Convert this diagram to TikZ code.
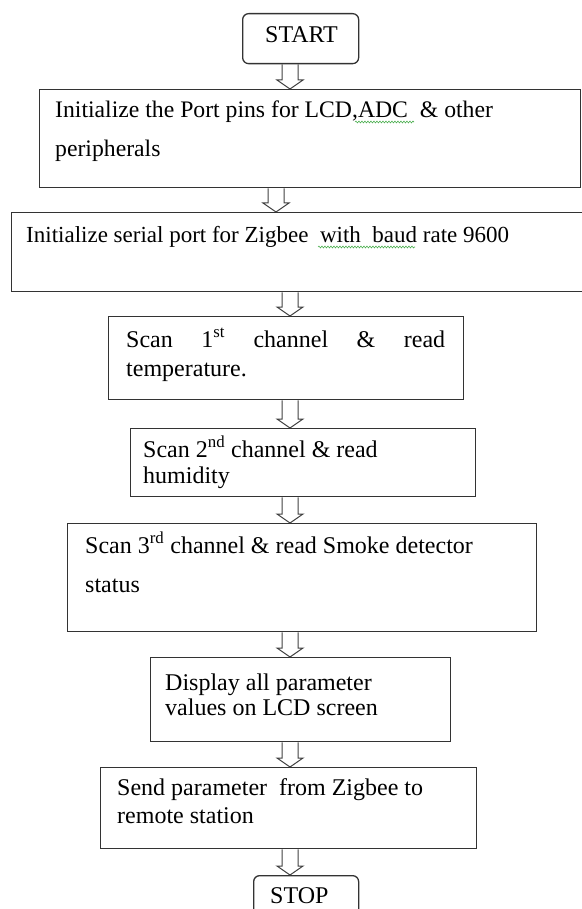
\documentclass[tikz,border=0pt]{standalone}
\usepackage{fontspec}
\setmainfont{Liberation Serif}
\usetikzlibrary{calc,decorations.pathmorphing}
\definecolor{edge}{HTML}{333333}
\definecolor{arrowgray}{HTML}{404040}
\definecolor{squiggle}{HTML}{4CAF50}
\tikzset{
  box/.style={draw=edge, line width=1.3pt, rectangle, inner sep=0pt, anchor=north west, fill=white},
  termbox/.style={box, rounded corners=6pt},
  txt/.style={anchor=base west, inner sep=0pt, text=black, font=\fontsize{24}{24}\selectfont},
  arrowline/.style={draw=arrowgray, line width=1pt, line join=miter},
  spell/.style={draw=squiggle, line width=0.6pt, decorate, decoration={snake, amplitude=0.9pt, segment length=3pt}}
}
\newcommand\flowarrow[3]{%
  \draw[arrowline] let \p1=(#1.south -| #3), \p2=(#2.north -| #3) in
    (\x1-8pt,\y1) -- (\x1-8pt,\y2+9pt) -- (\x1-13pt,\y2+9pt) -- (\x1,\y2)
    -- (\x1+13pt,\y2+9pt) -- (\x1+8pt,\y2+9pt) -- (\x1+8pt,\y1);
}
\begin{document}
\begin{tikzpicture}[x=1pt,y=-1pt]
\useasboundingbox (0,0) rectangle (581,909);
\coordinate (colA) at (290,0);
\coordinate (colB) at (276,0);

% boxes
\node[termbox, minimum width=116pt, minimum height=50pt] (start) at (242,13) {};
\node[box, minimum width=541pt, minimum height=98pt] (b1) at (39,89) {};
\node[box, minimum width=585pt, minimum height=79pt] (b2) at (11,212) {};
\node[box, minimum width=355pt, minimum height=83pt] (b3) at (108,316) {};
\node[box, minimum width=345pt, minimum height=68pt] (b4) at (130,428) {};
\node[box, minimum width=469pt, minimum height=108pt] (b5) at (67,523) {};
\node[box, minimum width=300pt, minimum height=84pt] (b6) at (150,657) {};
\node[box, minimum width=376pt, minimum height=81pt] (b7) at (100,767) {};
\node[termbox, minimum width=105pt, minimum height=55pt] (stop) at (253,875) {};

% texts
\node[txt] (tstart) at (265,43) {START};
\node[txt, font=\fontsize{23.7}{24}\selectfont] (t1a) at (55,118) {Initialize the Port pins for LCD,ADC \ \& other};
\node[txt, font=\fontsize{23.7}{24}\selectfont] (t1b) at (55,157) {peripherals};
\node[txt, font=\fontsize{23}{24}\selectfont] (t2) at (26,243) {Initialize serial port for Zigbee \ with \ baud rate 9600};
\node[txt] (t3a) at (126,347) {\makebox[319pt][s]{Scan 1\textsuperscript{st} channel \& read}};
\node[txt] (t3b) at (126,376) {temperature.};
\node[txt] (t4a) at (143,457) {Scan 2\textsuperscript{nd} channel \& read};
\node[txt] (t4b) at (143,483) {humidity};
\node[txt] (t5a) at (85,553) {Scan 3\textsuperscript{rd} channel \& read Smoke detector};
\node[txt] (t5b) at (85,592) {status};
\node[txt] (t6a) at (165,690) {Display all parameter};
\node[txt] (t6b) at (165,715) {values on LCD screen};
\node[txt] (t7a) at (117,795) {Send parameter \ from Zigbee to};
\node[txt] (t7b) at (117,823) {remote station};
\node[txt] (tstop) at (270,903) {STOP};

% spell-check squiggles
\draw[spell] (355,122) -- (414,122);
\draw[spell] (318,247) -- (415,247);

% connectors
\flowarrow{start}{b1}{colA}
\flowarrow{b1}{b2}{colB}
\flowarrow{b2}{b3}{colA}
\flowarrow{b3}{b4}{colA}
\flowarrow{b4}{b5}{colA}
\flowarrow{b5}{b6}{colA}
\flowarrow{b6}{b7}{colA}
\flowarrow{b7}{stop}{colA}
\end{tikzpicture}
\end{document}
